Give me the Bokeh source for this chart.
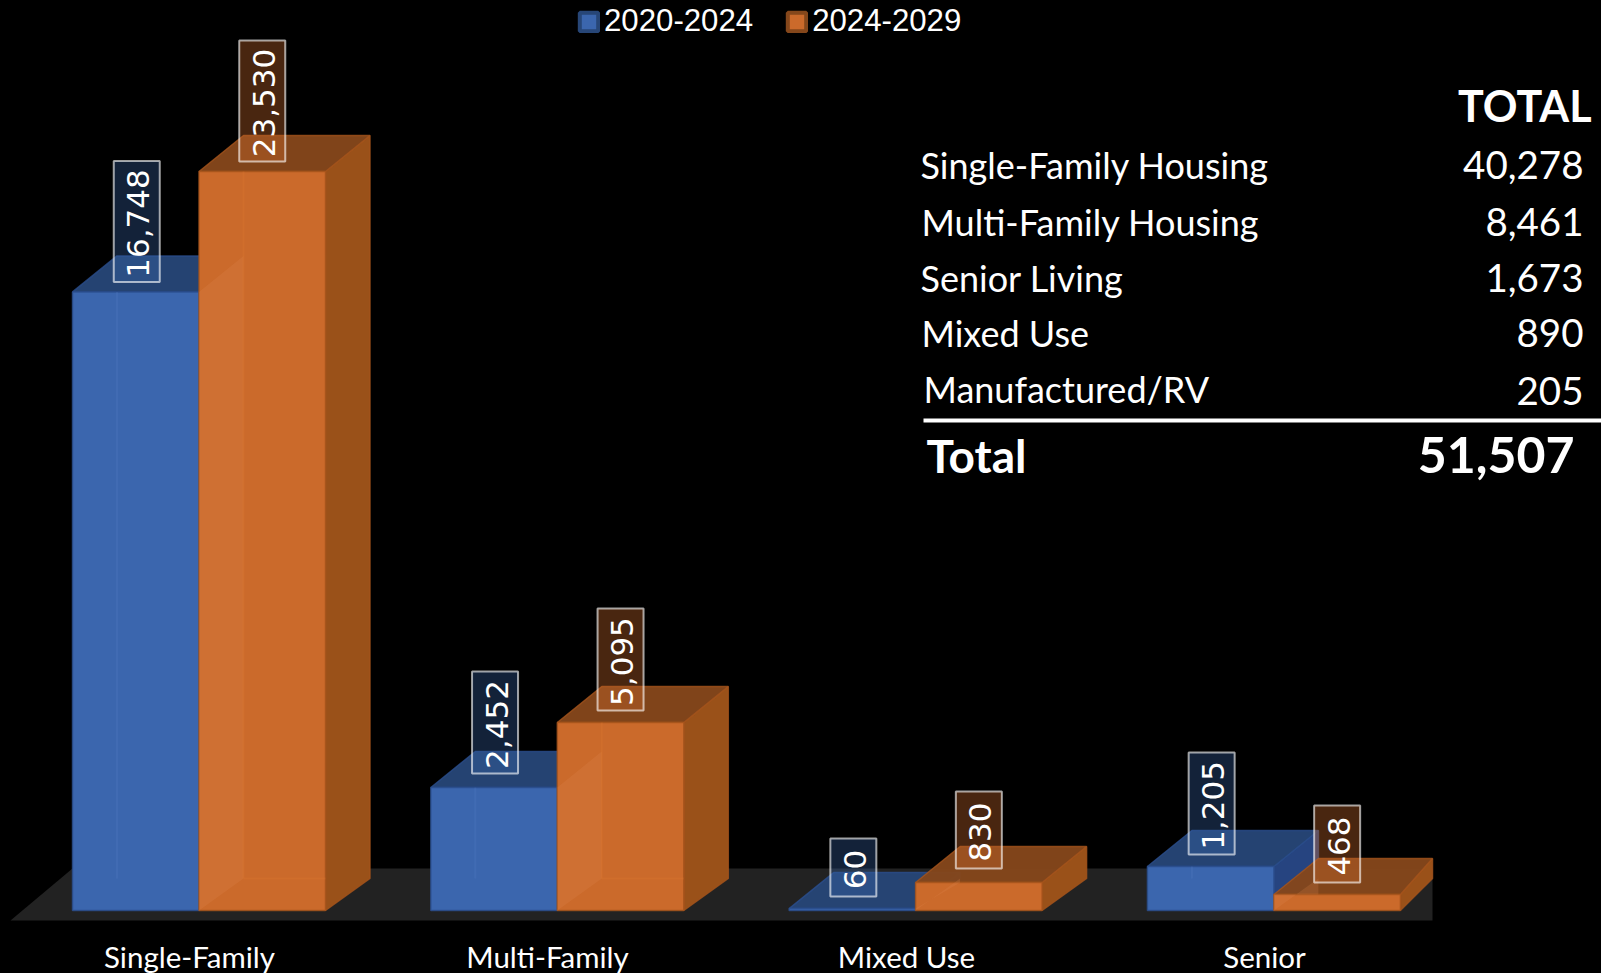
import numpy as np
from bokeh.embed import file_html
from bokeh.resources import INLINE
from bokeh.plotting import figure
from bokeh.models import Legend, LegendItem, FixedTicker, LinearAxis, Range1d
from bokeh.core.properties import value

# ---- data ----
categories = ["Single-Family", "Multi-Family", "Mixed Use", "Senior"]
series_names = ["2020-2024", "2024-2029"]
labels_2020 = [16748, 2452, 60, 1205]     # printed data labels
labels_2024 = [23530, 5095, 830, 468]
# heights of the columns as drawn (the picture's columns do not follow their labels exactly)
heights_2020 = [19695, 3916, 60, 1401]
heights_2024 = [23530, 5985, 891, 509]
table_labels = ["Single-Family Housing", "Multi-Family Housing", "Senior Living", "Mixed Use", "Manufactured/RV"]
table_values = [40278, 8461, 1673, 890, 205]
table_total = 51507

# ---- layout ----
W, H = 1601, 973
FRAME_H = 925
BASE_PX = 910
K = 739 / 23530           # px per unit
GROUP0, GROUP_STEP, BAR_W = 72.0, 358.3, 126.5
DX, DY_TOP, DY_BOT = 44.5, 36.0, 32.0
CLIP_X = 1432.0
GAPS_A = [10, 14, 12, 12]
GAPS_B = [10, 12, 14, 12]

def yv(px_from_top):
    return (BASE_PX - px_from_top) / K
def dy(px):
    return px / K

BLUE, BLUE_TOP, BLUE_SIDE, BLUE_EDGE = "#3b66ae", "#274677", "#264480", "#2a4d8c"
ORG, ORG_TOP, ORG_SIDE, ORG_EDGE = "#cb6a2b", "#85471b", "#9a5119", "#a5541b"

p = figure(width=W, height=H, frame_height=FRAME_H, frame_width=W, output_backend="svg", toolbar_location=None,
           x_range=Range1d(0, W), y_range=Range1d(yv(FRAME_H), yv(0)),
           background_fill_color="#000000", border_fill_color="#000000",
           min_border=0, x_axis_location=None, y_axis_location=None)
p.grid.visible = False
p.outline_line_color = None

# floor
p.patch([10, 72, CLIP_X, CLIP_X], [yv(920), yv(868), yv(868), yv(920)], fill_color="#222222", line_color=None)

def faces(left, h):
    x0, x1 = left, left + BAR_W
    return dict(
        side=([x1, x1 + DX, x1 + DX, x1], [0, dy(DY_BOT), h + dy(DY_TOP), h]),
        top=([x0, x1, x1 + DX, x0 + DX], [h, h, h + dy(DY_TOP), h + dy(DY_TOP)]),
        front=([x0, x1, x1, x0], [0, 0, h, h]),
    )

def draw(lefts, hs, front, top, side, edge):
    for name, col, alpha in (("side", side, 1.0), ("top", top, 0.96), ("front", front, 1.0)):
        xs, ys = [], []
        for l, h in zip(lefts, hs):
            fx, fy = faces(l, h)[name]
            xs.append(list(np.minimum(fx, CLIP_X)))
            ys.append(fy)
        p.patches(xs, ys, fill_color=col, fill_alpha=alpha, line_color=edge, line_width=1.5, line_alpha=0.8)

lefts_a = [GROUP0 + GROUP_STEP * i for i in range(len(categories))]
lefts_b = [l + BAR_W for l in lefts_a]

draw(lefts_a, heights_2020, BLUE, BLUE_TOP, BLUE_SIDE, BLUE_EDGE)

# inner back edges of the blue columns, faintly visible through the front
xs, ys = [], []
for l, h in zip(lefts_a, heights_2020):
    if h > dy(DY_BOT):
        xs.append([l + DX, l + DX]); ys.append([dy(DY_BOT), h])
p.multi_line(xs, ys, line_color="#5a84c8", line_alpha=0.2, line_width=2)

draw(lefts_b, heights_2024, ORG, ORG_TOP, ORG_SIDE, ORG_EDGE)

# blue side face shining through the orange front
xs, ys = [], []
for l, ha, hb in zip(lefts_b, heights_2020, heights_2024):
    t = ha + dy(DY_TOP)
    xs.append([l, l + DX, l + DX, l])
    ys.append([0, dy(DY_BOT), min(t, hb), min(ha, hb)])
p.patches(xs, ys, fill_color="#e08a50", fill_alpha=0.22, line_color=None)

# inner back edges of the orange columns
xs, ys = [], []
for l, h in zip(lefts_b, heights_2024):
    if h > dy(DY_BOT):
        xs.append([l + DX, l + DX]); ys.append([dy(DY_BOT), h])
        xs.append([l + DX, l + BAR_W]); ys.append([dy(DY_BOT), dy(DY_BOT)])
p.multi_line(xs, ys, line_color="#e07a30", line_alpha=0.25, line_width=2)

# data labels: translucent boxes with rotated numbers
BOX_W = 46.0
def box_len(s):
    return 19.0 * len(s) + 7 if len(s) > 3 else 19.0 * len(s) + 20

for lefts, hs, vals, gaps, col, a, xoff in ((lefts_a, heights_2020, labels_2020, GAPS_A, BLUE, 0.33, 1.0),
                                            (lefts_b, heights_2024, labels_2024, GAPS_B, ORG, 0.36, 0.0)):
    cx = [l + BAR_W / 2 + xoff for l in lefts]
    txt = [f"{v:,}" for v in vals]
    bot = [h + dy(g) for h, g in zip(hs, gaps)]
    top = [b + dy(box_len(s)) for b, s in zip(bot, txt)]
    p.quad(left=[c - BOX_W / 2 for c in cx], right=[c + BOX_W / 2 for c in cx], bottom=bot, top=top,
           fill_color=col, fill_alpha=a, line_color="#ffffff", line_alpha=0.62, line_width=2)
    p.text(x=[c + 1.5 for c in cx], y=[(b + t) / 2 - dy(2) for b, t in zip(bot, top)], text=txt, angle=np.pi / 2,
           text_color="#ffffff", text_font=value("DejaVu Sans"), text_font_size="31px",
           text_align="center", text_baseline="middle")

# category axis
ticks = [round(l + BAR_W - 9.5) for l in lefts_a]
ax = LinearAxis(ticker=FixedTicker(ticks=ticks), major_label_overrides=dict(zip(ticks, categories)),
                axis_line_color=None, major_tick_line_color=None, minor_tick_line_color=None,
                major_label_text_color="#ffffff", major_label_text_font="Lato",
                major_label_text_font_size="29.5px", major_label_standoff=7)
p.add_layout(ax, "below")

# legend (its renderers draw nothing in the plot area)
nan = float("nan")
r_a = p.quad(left=[nan], right=[nan], top=[nan], bottom=[nan], fill_color=BLUE, line_color=BLUE_TOP, line_width=4)
r_b = p.quad(left=[nan], right=[nan], top=[nan], bottom=[nan], fill_color=ORG, line_color=ORG_TOP, line_width=4)
legend = Legend(items=[LegendItem(label=series_names[0], renderers=[r_a]),
                       LegendItem(label=series_names[1], renderers=[r_b])],
                orientation="horizontal", location=(577, FRAME_H - 39), glyph_width=23, glyph_height=23,
                label_text_color="#ffffff", label_text_font="Liberation Sans", label_text_font_size="31.2px",
                background_fill_alpha=0, border_line_alpha=0, padding=0, margin=0, spacing=32,
                label_standoff=4, label_height=36)
p.add_layout(legend, "center")

# table
ROW_X = [920, 921, 920, 921, 923]
ROW_Y = [164, 221, 277, 332, 388]
VAL_Y = [164, 221, 277, 332, 390]
p.text(x=ROW_X, y=[yv(v) for v in ROW_Y], text=table_labels, text_color="#ffffff", text_font=value("Lato"),
       text_font_size="36px", text_baseline="alphabetic", text_align="left")
p.text(x=[1583] * 5, y=[yv(v) for v in VAL_Y], text=[f"{v:,}" for v in table_values], text_color="#ffffff",
       text_font=value("Lato"), text_font_size="38.5px", text_baseline="alphabetic", text_align="right")
p.text(x=[1591], y=[yv(105)], text=["TOTAL"], text_color="#ffffff", text_font=value("Lato"),
       text_font_style="bold", text_font_size="43px", text_baseline="alphabetic", text_align="right")
p.line([923, W], [yv(420), yv(420)], line_color="#ffffff", line_width=4)
p.text(x=[926], y=[yv(454.6)], text=["Total"], text_color="#ffffff", text_font=value("Lato"),
       text_font_style="bold", text_font_size="46px", text_baseline="alphabetic", text_align="left")
p.text(x=[1574], y=[yv(454.6)], text=[f"{table_total:,}"], text_color="#ffffff", text_font=value("Lato"),
       text_font_style="bold", text_font_size="50px", text_baseline="alphabetic", text_align="right")

html = file_html(p, INLINE)
# the chart's black ground runs to the window's edges
html = html.replace("<head>", "<head><style>html,body{margin:0;background:#000;overflow:hidden}</style>", 1)
open("out.html", "w").write(html)
